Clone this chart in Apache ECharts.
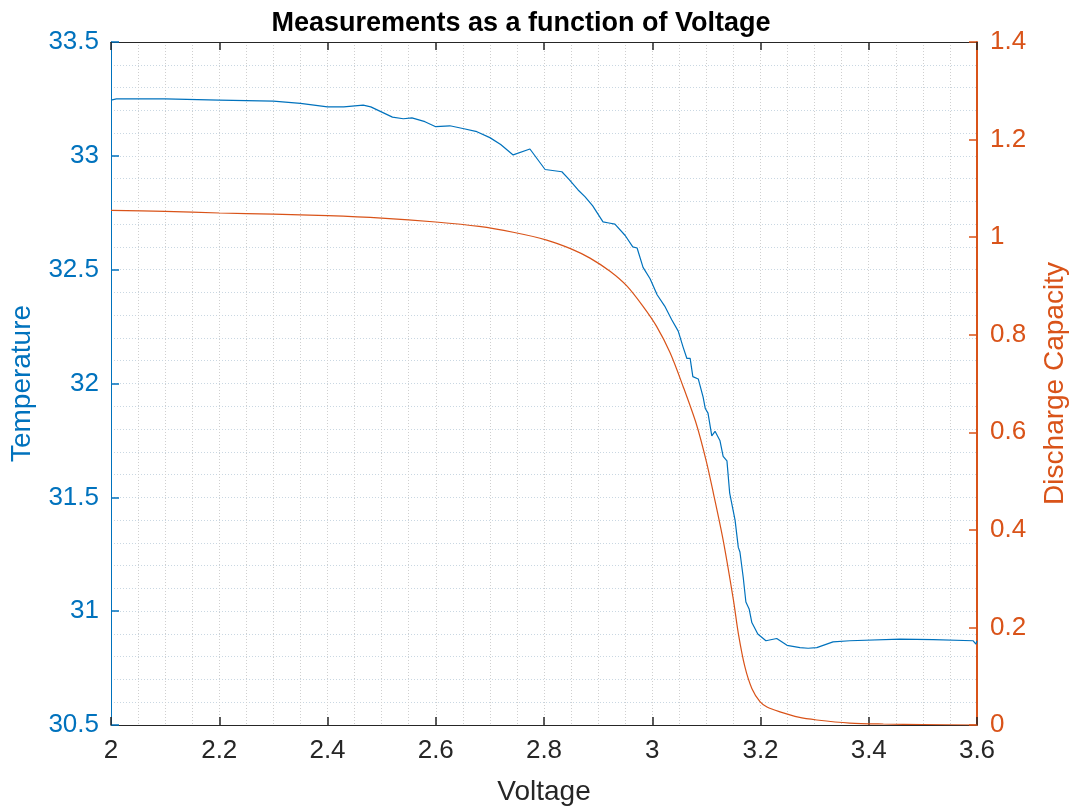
<!DOCTYPE html>
<html>
<head>
<meta charset="utf-8">
<script src="https://cdn.jsdelivr.net/npm/echarts@6/dist/echarts.min.js"></script>
<style>
html,body{margin:0;padding:0;background:#fff;}
#chart{width:1071px;height:807px;}
</style>
</head>
<body>
<div id="chart"></div>
<script>
// Temperature vs Voltage (left axis)
const tempVoltage = [2.0, 2.01, 2.1, 2.2, 2.3, 2.35, 2.4, 2.43, 2.466, 2.48, 2.52, 2.54, 2.556, 2.58, 2.60, 2.626, 2.65, 2.676, 2.70, 2.72, 2.743, 2.774, 2.802, 2.833, 2.845, 2.863, 2.876, 2.89, 2.909, 2.92, 2.931, 2.95, 2.964, 2.972, 2.983, 2.996, 3.009, 3.023, 3.036, 3.048, 3.057, 3.064, 3.07, 3.075, 3.085, 3.094, 3.098, 3.103, 3.110, 3.116, 3.125, 3.131, 3.138, 3.143, 3.153, 3.159, 3.162, 3.168, 3.173, 3.179, 3.184, 3.195, 3.210, 3.230, 3.249, 3.273, 3.288, 3.304, 3.334, 3.365, 3.458, 3.519, 3.593, 3.598, 3.6];
const temperature = [33.245, 33.25, 33.25, 33.245, 33.24, 33.23, 33.215, 33.215, 33.223, 33.215, 33.17, 33.163, 33.167, 33.15, 33.128, 33.132, 33.12, 33.106, 33.08, 33.05, 33.004, 33.03, 32.94, 32.93, 32.9, 32.85, 32.82, 32.78, 32.71, 32.705, 32.70, 32.65, 32.60, 32.595, 32.51, 32.46, 32.39, 32.34, 32.28, 32.23, 32.16, 32.11, 32.11, 32.03, 32.02, 31.94, 31.89, 31.87, 31.77, 31.79, 31.75, 31.68, 31.66, 31.52, 31.40, 31.28, 31.26, 31.15, 31.04, 31.01, 30.95, 30.90, 30.87, 30.88, 30.85, 30.84, 30.837, 30.84, 30.865, 30.87, 30.877, 30.875, 30.87, 30.855, 30.87];

// Discharge Capacity vs Voltage (right axis)
const capVoltage = [2.0, 2.1, 2.2, 2.3, 2.4, 2.5, 2.6, 2.68, 2.743, 2.805, 2.85, 2.885, 2.922, 2.953, 2.983, 3.008, 3.033, 3.057, 3.082, 3.100, 3.113, 3.131, 3.150, 3.159, 3.171, 3.184, 3.199, 3.212, 3.236, 3.27, 3.304, 3.365, 3.427, 3.5, 3.6];
const capacity = [1.055, 1.053, 1.0495, 1.047, 1.044, 1.039, 1.031, 1.022, 1.010, 0.994, 0.976, 0.957, 0.930, 0.900, 0.858, 0.817, 0.763, 0.694, 0.615, 0.54, 0.475, 0.379, 0.256, 0.188, 0.120, 0.075, 0.048, 0.037, 0.027, 0.016, 0.0103, 0.004, 0.002, 0.001, 0.0];

const titleText = 'Measurements as a function of Voltage';
const xName = 'Voltage';
const leftName = 'Temperature';
const rightName = 'Discharge Capacity';

const BLUE = '#0072BD';
const ORANGE = '#D95319';
const FONT = 'Liberation Sans, Arial, Helvetica, sans-serif';

const chart = echarts.init(document.getElementById('chart'), null, {renderer: 'canvas'});
const vGrid = {show: true, lineStyle: {color: '#cfcfcf', type: [1, 2], width: 1}};
const hGrid = {show: true, lineStyle: {color: '#c9d7e2', type: [1, 2], width: 1}};
const fmt = v => (Math.round(v * 10) / 10).toString();

chart.setOption({
  animation: false,
  backgroundColor: '#ffffff',
  title: {
    text: titleText,
    left: 516, textAlign: 'center', top: 5,
    textStyle: {fontFamily: FONT, fontSize: 27, fontWeight: 'bold', color: '#000'}
  },
  grid: {left: 111, right: 94, top: 42, bottom: 82, containLabel: false, outerBoundsMode: 'none'},
  xAxis: [{
    type: 'value', min: 2, max: 3.6, interval: 0.2, position: 'bottom',
    name: xName, nameLocation: 'middle', nameGap: 53,
    nameTextStyle: {fontFamily: FONT, fontSize: 28, color: '#262626'},
    axisLine: {show: true, onZero: false, lineStyle: {color: '#262626', width: 1}},
    axisTick: {show: true, inside: true, length: 8, lineStyle: {color: '#262626', width: 1.5}},
    axisLabel: {fontFamily: FONT, fontSize: 26, color: '#262626', margin: 13, formatter: fmt},
    splitLine: vGrid,
    minorTick: {show: false, splitNumber: 4},
    minorSplitLine: vGrid
  }, {
    type: 'value', min: 2, max: 3.6, interval: 0.2, position: 'top',
    axisLine: {show: true, onZero: false, lineStyle: {color: '#262626', width: 1}},
    axisTick: {show: true, inside: true, length: 8, lineStyle: {color: '#262626', width: 1.5}},
    axisLabel: {show: false},
    splitLine: {show: false}
  }],
  yAxis: [{
    type: 'value', min: 30.5, max: 33.5, interval: 0.5, position: 'left',
    name: leftName, nameLocation: 'middle', nameGap: 75,
    nameTextStyle: {fontFamily: FONT, fontSize: 28, color: BLUE},
    axisLine: {show: true, onZero: false, lineStyle: {color: BLUE, width: 1}},
    axisTick: {show: true, inside: true, length: 8, lineStyle: {color: BLUE, width: 1.5}},
    axisLabel: {fontFamily: FONT, fontSize: 26, color: BLUE, margin: 12, formatter: fmt},
    splitLine: hGrid,
    minorTick: {show: false, splitNumber: 5},
    minorSplitLine: hGrid
  }, {
    type: 'value', min: 0, max: 1.4, interval: 0.2, position: 'right',
    name: rightName, nameLocation: 'middle', nameGap: 64,
    nameTextStyle: {fontFamily: FONT, fontSize: 28, color: ORANGE},
    axisLine: {show: true, onZero: false, lineStyle: {color: ORANGE, width: 2}},
    axisTick: {show: true, inside: true, length: 8, lineStyle: {color: ORANGE, width: 1.5}},
    axisLabel: {fontFamily: FONT, fontSize: 26, color: ORANGE, margin: 13, formatter: fmt},
    splitLine: {show: false}
  }],
  series: [{
    type: 'line', name: leftName, xAxisIndex: 0, yAxisIndex: 0,
    data: tempVoltage.map((x, i) => [x, temperature[i]]),
    showSymbol: false, symbol: 'none',
    lineStyle: {color: BLUE, width: 1.2}, itemStyle: {color: BLUE}
  }, {
    type: 'line', name: rightName, xAxisIndex: 0, yAxisIndex: 1,
    data: capVoltage.map((x, i) => [x, capacity[i]]),
    showSymbol: false, symbol: 'none', smooth: 0.3,
    lineStyle: {color: ORANGE, width: 1.2}, itemStyle: {color: ORANGE}
  }]
});
</script>
</body>
</html>
